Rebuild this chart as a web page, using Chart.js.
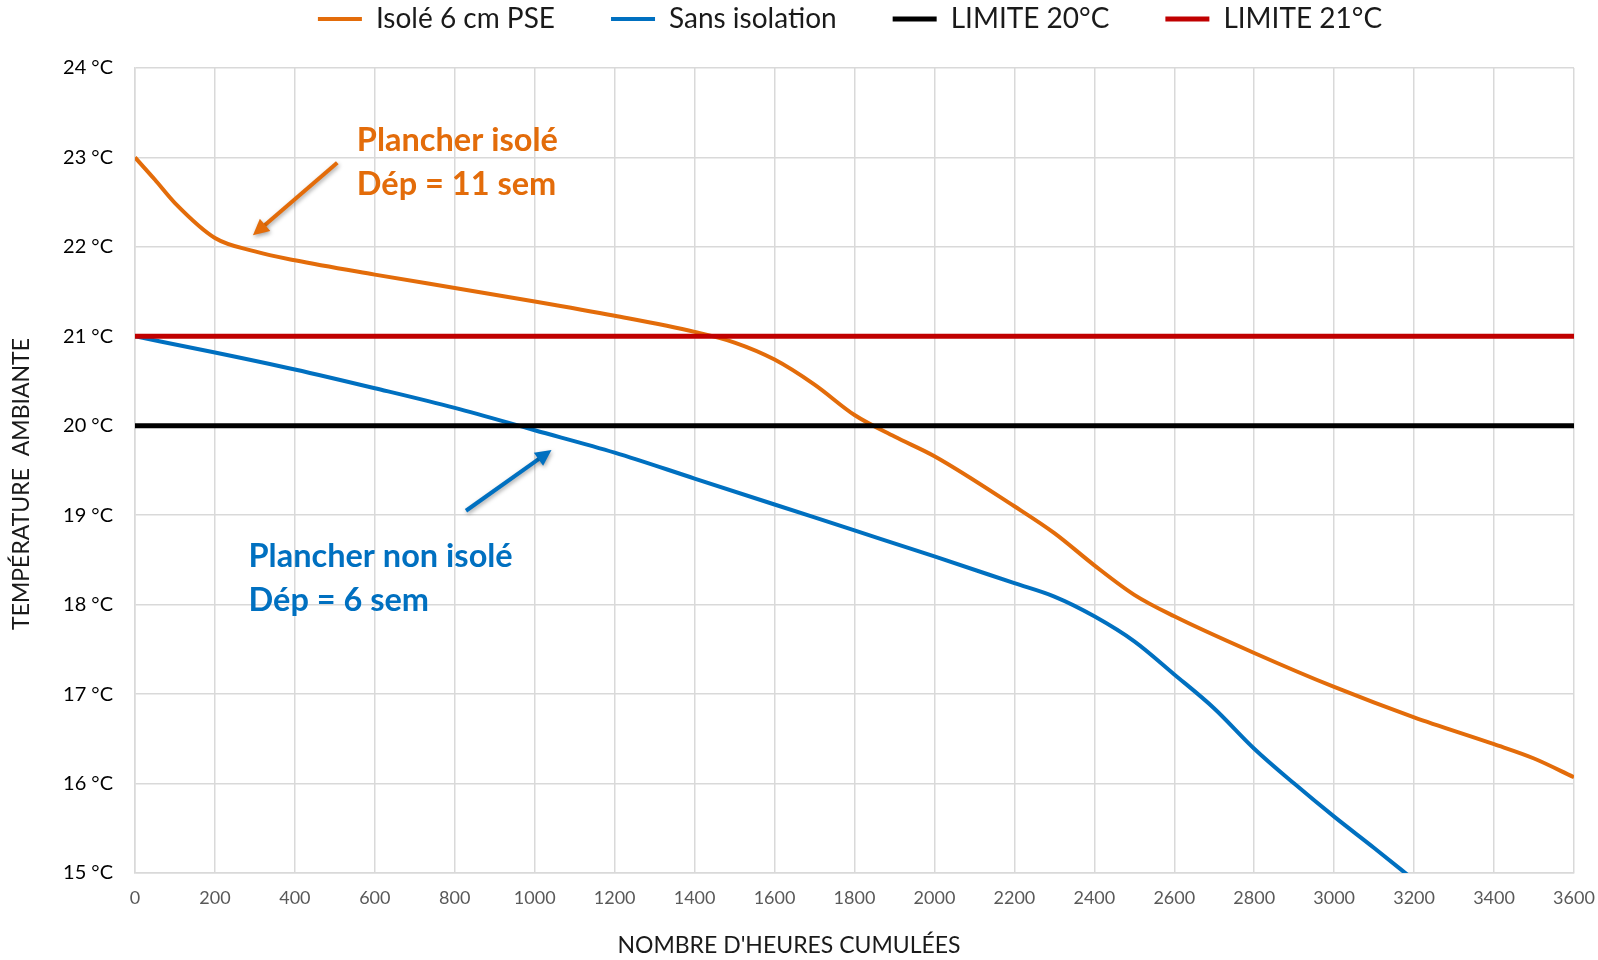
<!DOCTYPE html>
<html>
<head>
<meta charset="utf-8">
<script src="https://cdn.jsdelivr.net/npm/chart.js@4.4.1/dist/chart.umd.min.js"></script>
<style>
  body { margin: 0; background: #fff; }
  canvas { display: block; }
</style>
</head>
<body>
<canvas id="tempChart" width="1598" height="960"></canvas>
<script>
// Values
const isoleHours = [0, 50, 100, 200, 300, 400, 600, 800, 1000, 1200, 1400, 1500, 1600, 1700, 1800, 1900, 2000, 2200, 2300, 2400, 2500, 2600, 2800, 3000, 3200, 3400, 3500, 3600];
const isoleTemps = [23.0, 22.75, 22.49, 22.10, 21.95, 21.85, 21.69, 21.54, 21.39, 21.23, 21.05, 20.93, 20.74, 20.46, 20.12, 19.88, 19.66, 19.10, 18.80, 18.44, 18.11, 17.87, 17.46, 17.08, 16.74, 16.44, 16.28, 16.07];

const sansHours = [0, 200, 400, 600, 800, 1000, 1200, 1400, 1600, 1800, 2000, 2200, 2300, 2400, 2500, 2600, 2700, 2800, 2900, 3000, 3100, 3200];
const sansTemps = [21.0, 20.82, 20.63, 20.42, 20.2, 19.95, 19.70, 19.41, 19.12, 18.83, 18.54, 18.24, 18.09, 17.87, 17.59, 17.22, 16.84, 16.39, 16.00, 15.63, 15.28, 14.92];

const limitHours = [0, 3600];
const limit20 = [20, 20];
const limit21 = [21, 21];

const seriesLabels = ['Isolé 6 cm PSE', 'Sans isolation', 'LIMITE 20°C', 'LIMITE 21°C'];
const xTitle = "NOMBRE D'HEURES CUMULÉES";
const yTitle = 'TEMPÉRATURE  AMBIANTE';

const ORANGE = '#E36C0A';
const BLUE = '#0070C0';
const FONT = 'Lato, "Open Sans", sans-serif';

function toPoints(xs, ys) {
    return xs.map((x, i) => ({ x: x, y: ys[i] }));
}

// Draws an arrow between two pixel points
function drawArrow(ctx, x1, y1, x2, y2, color) {
    const angle = Math.atan2(y2 - y1, x2 - x1);
    const head = 16;
    ctx.save();
    ctx.strokeStyle = color;
    ctx.fillStyle = color;
    ctx.lineWidth = 4;
    ctx.shadowColor = 'rgba(0,0,0,0.35)';
    ctx.shadowBlur = 4;
    ctx.shadowOffsetX = 1;
    ctx.shadowOffsetY = 2;
    ctx.beginPath();
    ctx.moveTo(x1, y1);
    ctx.lineTo(x2 - Math.cos(angle) * head * 0.8, y2 - Math.sin(angle) * head * 0.8);
    ctx.stroke();
    ctx.beginPath();
    ctx.moveTo(x2, y2);
    ctx.lineTo(x2 - head * Math.cos(angle) + 8 * Math.sin(angle), y2 - head * Math.sin(angle) - 8 * Math.cos(angle));
    ctx.lineTo(x2 - head * Math.cos(angle) - 8 * Math.sin(angle), y2 - head * Math.sin(angle) + 8 * Math.cos(angle));
    ctx.closePath();
    ctx.fill();
    ctx.restore();
}

// Text notes, arrows and axis titles
const notesPlugin = {
    id: 'notes',
    afterDatasetsDraw(chart) {
        const { ctx, scales: { x, y } } = chart;
        ctx.save();
        ctx.font = 'bold 32.5px ' + FONT;
        ctx.textBaseline = 'middle';
        ctx.fillStyle = ORANGE;
        ctx.fillText('Plancher isolé', x.getPixelForValue(555), y.getPixelForValue(23.19));
        ctx.fillText('Dép = 11 sem', x.getPixelForValue(555), y.getPixelForValue(22.70));
        ctx.fillStyle = BLUE;
        ctx.fillText('Plancher non isolé', x.getPixelForValue(284), y.getPixelForValue(18.54));
        ctx.fillText('Dép = 6 sem', x.getPixelForValue(284), y.getPixelForValue(18.05));
        ctx.restore();

        drawArrow(ctx, x.getPixelForValue(506), y.getPixelForValue(22.94),
            x.getPixelForValue(295), y.getPixelForValue(22.13), ORANGE);
        drawArrow(ctx, x.getPixelForValue(828), y.getPixelForValue(19.05),
            x.getPixelForValue(1042), y.getPixelForValue(19.73), BLUE);

        // axis titles, placed like in the original (not centred on the plot)
        ctx.save();
        ctx.font = '23px ' + FONT;
        ctx.fillStyle = '#1a1a1a';
        ctx.textAlign = 'center';
        ctx.textBaseline = 'middle';
        ctx.fillText(xTitle, 789, 946);
        ctx.translate(22, 484);
        ctx.rotate(-Math.PI / 2);
        ctx.fillText(yTitle, 0, 0);
        ctx.restore();
    }
};

// Move the legend row up to the top edge and a bit to the right, like the original
const legendPlace = {
    id: 'legendPlace',
    afterLayout(chart) {
        const l = chart.legend;
        l.top = -51;
        l.left += 63;
        l.right += 63;
    }
};

window.onload = () => {
    const ctx = document.getElementById('tempChart').getContext('2d');
    new Chart(ctx, {
        type: 'line',
        data: {
            datasets: [{
                label: seriesLabels[0],
                data: toPoints(isoleHours, isoleTemps),
                borderColor: ORANGE,
                backgroundColor: ORANGE,
                borderWidth: 4,
                order: 2
            }, {
                label: seriesLabels[1],
                data: toPoints(sansHours, sansTemps),
                borderColor: BLUE,
                backgroundColor: BLUE,
                borderWidth: 4,
                order: 2
            }, {
                label: seriesLabels[2],
                data: toPoints(limitHours, limit20),
                borderColor: '#000000',
                backgroundColor: '#000000',
                borderWidth: 5,
                order: 1
            }, {
                label: seriesLabels[3],
                data: toPoints(limitHours, limit21),
                borderColor: '#C00000',
                backgroundColor: '#C00000',
                borderWidth: 5,
                order: 1
            }]
        },
        options: {
            responsive: false,
            animation: false,
            cubicInterpolationMode: 'monotone',
            elements: { point: { radius: 0 } },
            layout: { padding: { left: 0, right: 24, top: 0, bottom: 0 } },
            plugins: {
                tooltip: { enabled: false },
                legend: {
                    position: 'top',
                    maxHeight: 68,
                    labels: {
                        usePointStyle: true,
                        pointStyle: 'line',
                        pointStyleWidth: 44,
                        padding: 56,
                        color: '#1a1a1a',
                        font: { family: FONT, size: 28 },
                        sort: (a, b) => a.datasetIndex - b.datasetIndex
                    }
                }
            },
            scales: {
                x: {
                    type: 'linear',
                    min: 0,
                    max: 3600,
                    ticks: {
                        stepSize: 200,
                        padding: 14,
                        color: '#595959',
                        font: { family: FONT, size: 18 },
                        callback: (v) => String(v)
                    },
                    grid: { color: '#d9d9d9', lineWidth: 1.5, drawTicks: false },
                    border: { color: '#d9d9d9', width: 1.5 },
                    afterFit(scale) {
                        scale.height = 87;
                        scale.paddingLeft = 0;
                        scale.paddingRight = 0;
                    }
                },
                y: {
                    min: 15,
                    max: 24,
                    ticks: {
                        stepSize: 1,
                        padding: 22,
                        color: '#000000',
                        font: { family: FONT, size: 20 },
                        callback: (v) => v + ' °C'
                    },
                    grid: { color: '#d9d9d9', lineWidth: 1.5, drawTicks: false },
                    border: { color: '#d9d9d9', width: 1.5 },
                    afterFit(scale) {
                        scale.width = 135;
                        scale.paddingTop = 0;
                        scale.paddingBottom = 0;
                    }
                }
            }
        },
        plugins: [notesPlugin, legendPlace]
    });
};
</script>
</body>
</html>
